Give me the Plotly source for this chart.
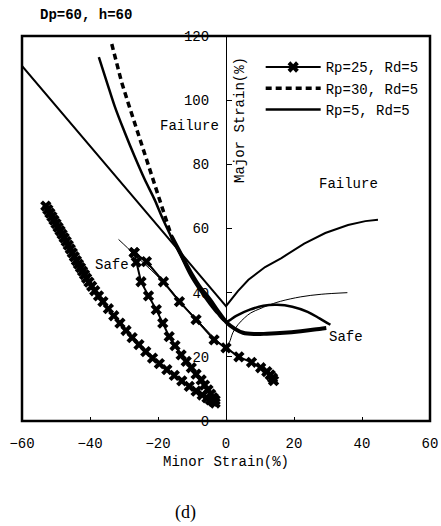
import plotly.graph_objects as go

# ---- data ----
# Rp=25, Rd=5 : three marker curves
rp25_a_x = [-53.0,-52.4,-51.8,-51.2,-50.6,-50.0,-49.4,-48.8,-48.2,-47.6,-47.0,-46.4,-45.8,-45.2,-44.6,-44.0,-43.4,-42.8,-42.2,-41.6,-41.0,-40.3,-39.5,-38.6,-37.5,-36.2,-34.6,-33.0,-31.2,-29.4,-27.6,-25.6,-23.6,-21.6,-19.6,-17.4,-15.2,-13.0,-10.8,-8.8,-7.0,-5.6,-4.6,-3.8,-3.2]
rp25_a_y = [67.0,65.9,64.8,63.7,62.6,61.5,60.4,59.3,58.2,57.1,56.0,54.8,53.6,52.4,51.2,50.0,48.9,47.8,46.7,45.6,44.5,43.3,42.0,40.6,39.0,37.2,35.0,32.8,30.5,28.2,26.0,23.8,21.6,19.6,17.9,16.0,14.2,12.5,10.8,9.3,8.1,7.2,6.6,6.1,5.6]
rp25_b_x = [-27.0,-26.4,-25.0,-22.8,-20.5,-18.6,-16.7,-15.0,-13.2,-11.7,-10.2,-8.8,-7.3,-6.3,-5.3,-4.5,-3.8,-3.2]
rp25_b_y = [52.5,49.5,43.4,39.0,34.7,30.5,26.3,23.5,20.6,18.6,16.6,14.6,12.8,11.2,9.7,8.4,7.3,6.5]
rp25_c_x = [-27.0,-23.4,-18.4,-13.7,-8.8,-3.5,0.0,3.8,7.5,10.2,12.0,13.0,13.7,14.0]
rp25_c_y = [52.5,49.7,43.4,37.2,31.6,25.3,22.8,20.0,18.3,16.6,15.4,14.4,13.4,12.6]

# Rp=30, Rd=5 : dashed upper part, heavy lower part
rp30_up_x = [-33.6,-32.2,-30.7,-28.8,-26.9,-24.8,-22.8,-20.9,-19.0,-17.5,-16.0]
rp30_up_y = [117.5,111.5,105.6,99.2,93.0,86.0,79.4,73.0,67.0,62.0,57.5]
rp30_lo_x = [-16.0,-13.0,-10.2,-7.5,-4.7,-2.2,0.3,2.5,5.0,8.5,12.0,17.0,22.0,26.0,29.5]
rp30_lo_y = [57.5,51.5,46.0,41.5,37.8,34.0,30.6,28.8,27.5,27.1,27.2,27.5,28.0,28.5,29.0]

# Rp=5, Rd=5
rp5_x = [-37.4,-35.0,-32.7,-29.8,-26.9,-24.0,-21.0,-18.8,-16.7,-13.5,-10.5,-7.5,-5.0,-2.5,0.0,3.0,7.0,11.0,15.0,19.5,24.0,27.5,30.7]
rp5_y = [113.4,105.5,98.0,90.0,82.5,75.5,69.0,63.5,58.7,52.0,45.5,40.5,36.8,33.5,31.0,32.8,34.7,35.9,36.2,35.6,34.0,32.0,30.0]

# forming limit (V shaped) curve
flc_x = [-60.0,0.0,3.5,6.6,11.5,16.3,23.0,29.2,35.9,41.0,44.7]
flc_y = [110.7,35.8,40.5,44.0,48.0,50.8,55.3,58.6,61.1,62.3,62.7]

# thin curve
thin_x = [-31.6,-29.0,-27.0,-24.0,-20.0,-16.0,-12.0,-8.0,-4.5,-1.5,0.0,1.0,2.0,3.5,5.5,7.3,10.0,12.3,16.0,22.0,28.0,35.7]
thin_y = [56.6,54.0,52.0,49.0,45.0,40.5,35.5,31.0,27.0,24.0,23.0,24.5,27.5,30.0,32.2,33.7,35.0,36.0,37.3,38.7,39.5,40.0]

x_ticks = [-60, -40, -20, 0, 20, 40, 60]
y_ticks = [0, 20, 40, 60, 80, 100, 120]

FONT = "Liberation Mono"
fig = go.Figure()

mk = dict(symbol="x", size=10, color="black", line=dict(width=0))
fig.add_trace(go.Scatter(x=rp25_a_x, y=rp25_a_y, mode="lines+markers", name="Rp=25, Rd=5",
                         legendgroup="rp25", line=dict(color="black", width=2), marker=mk))
fig.add_trace(go.Scatter(x=rp25_b_x, y=rp25_b_y, mode="lines+markers", showlegend=False,
                         legendgroup="rp25", line=dict(color="black", width=2), marker=mk))
fig.add_trace(go.Scatter(x=rp25_c_x, y=rp25_c_y, mode="lines+markers", showlegend=False,
                         legendgroup="rp25", line=dict(color="black", width=2), marker=mk))

fig.add_trace(go.Scatter(x=rp30_up_x, y=rp30_up_y, mode="lines", name="Rp=30, Rd=5",
                         legendgroup="rp30", line=dict(color="black", width=3.5, dash="6px,4px")))
fig.add_trace(go.Scatter(x=rp30_lo_x, y=rp30_lo_y, mode="lines", showlegend=False,
                         legendgroup="rp30", line=dict(color="black", width=4, shape="spline")))

fig.add_trace(go.Scatter(x=rp5_x, y=rp5_y, mode="lines", name="Rp=5, Rd=5",
                         line=dict(color="black", width=2.5, shape="spline")))

fig.add_trace(go.Scatter(x=flc_x, y=flc_y, mode="lines", showlegend=False,
                         line=dict(color="black", width=2)))
fig.add_trace(go.Scatter(x=thin_x, y=thin_y, mode="lines", showlegend=False,
                         line=dict(color="black", width=1, shape="spline")))

tf = dict(family=FONT, size=14, color="black")
C = dict(showarrow=False, xanchor="center", yanchor="middle")
ann = [
    dict(x=-10.6, y=92, xref="x", yref="y", text="Failure", font=tf, **C),
    dict(x=36.1, y=73.9, xref="x", yref="y", text="Failure", font=tf, **C),
    dict(x=-33.6, y=48.6, xref="x", yref="y", text="Safe", font=tf, **C),
    dict(x=35.2, y=26.2, xref="x", yref="y", text="Safe", font=tf, **C),
    dict(x=4.1, y=93.8, xref="x", yref="y", text="Major Strain(%)", textangle=-90, font=tf, **C),
    dict(x=0.501, y=-0.107, xref="paper", yref="paper", text="Minor Strain(%)", font=tf, **C),
    dict(x=0.156, y=1.055, xref="paper", yref="paper", text="<b>Dp=60, h=60</b>", font=tf, **C),
    dict(x=0.401, y=-0.238, xref="paper", yref="paper", text="(d)",
         font=dict(family="Liberation Serif", size=18, color="black"), **C),
]

fig.update_layout(
    width=441, height=526,
    margin=dict(l=22, r=11, t=36, b=105),
    paper_bgcolor="white", plot_bgcolor="white",
    font=tf,
    annotations=ann,
    shapes=[dict(type="rect", xref="paper", yref="paper", x0=0, y0=0, x1=1, y1=1,
                 line=dict(color="black", width=2.5), layer="above")],
    legend=dict(x=0.585, y=0.96, xanchor="left", yanchor="top", bgcolor="rgba(0,0,0,0)",
                font=tf, itemwidth=55, tracegroupgap=0),
    xaxis=dict(range=[-60, 60], tickvals=x_ticks, ticks="inside", ticklen=4,
               tickcolor="black", showgrid=False, zeroline=False, showline=False,
               ticklabelstandoff=12, tickfont=tf, automargin=False),
    yaxis=dict(range=[0, 120], tickvals=y_ticks, ticks="inside", ticklen=5,
               tickcolor="black", showgrid=False, zeroline=False, showline=True,
               linecolor="black", linewidth=1, anchor="free", position=0.5,
               ticklabelstandoff=14, tickfont=tf, layer="below traces", automargin=False),
)

fig.write_html("out.html", config={"displayModeBar": False},
               post_script="document.body.style.margin='0';document.body.style.overflow='hidden';")
